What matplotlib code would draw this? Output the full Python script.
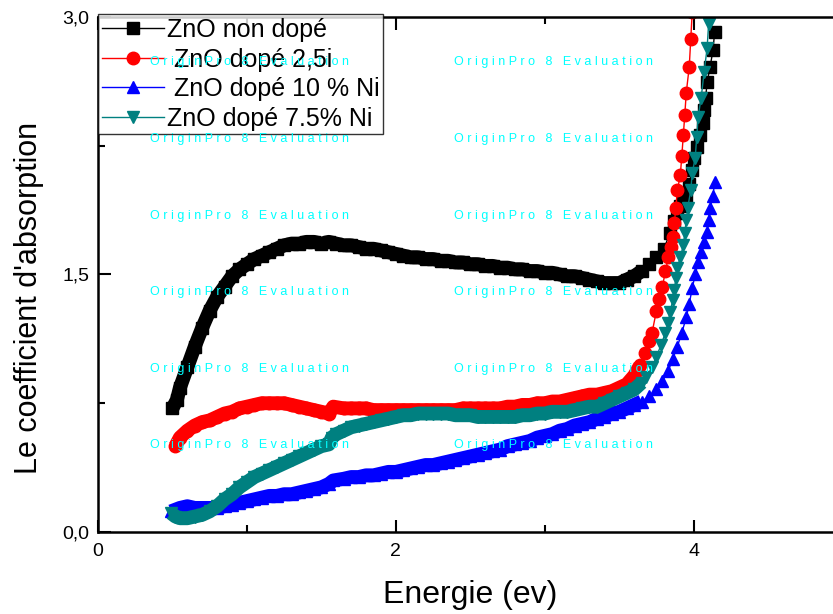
import numpy as np
import matplotlib
matplotlib.use('Agg')
from matplotlib import pyplot as plt
from matplotlib import ticker

plt.rcParams['font.family'] = ['Liberation Sans', 'DejaVu Sans']
plt.rcParams['xtick.direction'] = 'in'
plt.rcParams['ytick.direction'] = 'in'

# ZnO non dope
x_nd = [0.50, 0.53, 0.55, 0.60, 0.65, 0.70, 0.75, 0.80, 0.85, 0.90, 0.95, 1.00, 1.05, 1.10,
        1.15, 1.20, 1.25, 1.30, 1.35, 1.40, 1.45, 1.50, 1.55, 1.60, 1.65, 1.70, 1.75, 1.80,
        1.85, 1.90, 1.95, 2.00, 2.05, 2.10, 2.15, 2.20, 2.25, 2.30, 2.35, 2.40, 2.45, 2.50,
        2.55, 2.60, 2.65, 2.70, 2.75, 2.80, 2.85, 2.90, 2.95, 3.00, 3.05, 3.10, 3.15, 3.20,
        3.25, 3.30, 3.35, 3.40, 3.45, 3.50, 3.55, 3.60, 3.65, 3.70, 3.75, 3.80, 3.84, 3.87,
        3.89, 3.91, 3.93, 3.95, 3.97, 3.99, 4.00, 4.02, 4.04, 4.06, 4.07, 4.08, 4.09, 4.11,
        4.13, 4.14]
y_nd = [0.72, 0.77, 0.84, 0.96, 1.08, 1.19, 1.29, 1.37, 1.43, 1.49, 1.53, 1.56, 1.59, 1.61,
        1.63, 1.65, 1.67, 1.68, 1.68, 1.69, 1.69, 1.68, 1.69, 1.68, 1.67, 1.67, 1.66, 1.65,
        1.65, 1.64, 1.63, 1.62, 1.61, 1.60, 1.60, 1.59, 1.59, 1.58, 1.58, 1.57, 1.57, 1.56,
        1.56, 1.55, 1.55, 1.54, 1.54, 1.53, 1.53, 1.52, 1.52, 1.51, 1.51, 1.50, 1.49, 1.49,
        1.48, 1.47, 1.46, 1.45, 1.45, 1.45, 1.47, 1.49, 1.52, 1.56, 1.60, 1.65, 1.74, 1.81,
        1.86, 1.90, 1.93, 1.96, 2.03, 2.11, 2.18, 2.24, 2.31, 2.38, 2.46, 2.53, 2.62, 2.71,
        2.81, 2.91]

# ZnO dope 2,5
x_25 = [0.52, 0.55, 0.60, 0.65, 0.70, 0.75, 0.80, 0.85, 0.90, 0.95, 1.00, 1.05, 1.10, 1.15,
        1.20, 1.25, 1.30, 1.35, 1.40, 1.45, 1.50, 1.55, 1.58, 1.65, 1.70, 1.75, 1.80, 1.85,
        1.90, 1.95, 2.00, 2.05, 2.10, 2.15, 2.20, 2.25, 2.30, 2.35, 2.40, 2.45, 2.50, 2.55,
        2.60, 2.65, 2.70, 2.75, 2.80, 2.85, 2.90, 2.95, 3.00, 3.05, 3.10, 3.15, 3.20, 3.25,
        3.30, 3.35, 3.40, 3.45, 3.50, 3.55, 3.60, 3.64, 3.67, 3.70, 3.72, 3.75, 3.77, 3.79,
        3.81, 3.83, 3.85, 3.86, 3.87, 3.88, 3.89, 3.91, 3.92, 3.93, 3.94, 3.95, 3.97, 3.98,
        3.99]
y_25 = [0.50, 0.55, 0.59, 0.62, 0.64, 0.65, 0.67, 0.69, 0.70, 0.72, 0.73, 0.74, 0.75, 0.75,
        0.75, 0.75, 0.74, 0.73, 0.72, 0.71, 0.70, 0.69, 0.73, 0.72, 0.72, 0.72, 0.72, 0.71,
        0.71, 0.71, 0.71, 0.71, 0.71, 0.71, 0.71, 0.71, 0.71, 0.71, 0.71, 0.72, 0.72, 0.72,
        0.72, 0.72, 0.72, 0.73, 0.73, 0.74, 0.74, 0.75, 0.75, 0.76, 0.76, 0.77, 0.78, 0.79,
        0.80, 0.80, 0.81, 0.82, 0.84, 0.86, 0.91, 0.97, 1.04, 1.11, 1.16, 1.29, 1.36, 1.43,
        1.52, 1.60, 1.66, 1.72, 1.80, 1.89, 1.99, 2.08, 2.19, 2.31, 2.43, 2.56, 2.71, 2.87,
        3.03]

# ZnO dope 10 % Ni
x_10 = [0.49, 0.55, 0.60, 0.65, 0.70, 0.75, 0.80, 0.85, 0.90, 0.95, 1.00, 1.05, 1.10, 1.15,
        1.20, 1.25, 1.30, 1.35, 1.40, 1.45, 1.50, 1.55, 1.58, 1.65, 1.70, 1.75, 1.80, 1.85,
        1.90, 1.95, 2.00, 2.05, 2.10, 2.15, 2.20, 2.25, 2.30, 2.35, 2.40, 2.45, 2.50, 2.55,
        2.60, 2.65, 2.70, 2.75, 2.80, 2.85, 2.90, 2.95, 3.00, 3.05, 3.10, 3.15, 3.20, 3.25,
        3.30, 3.35, 3.40, 3.45, 3.50, 3.55, 3.60, 3.65, 3.70, 3.75, 3.79, 3.83, 3.86, 3.89,
        3.92, 3.95, 3.97, 3.99, 4.01, 4.03, 4.05, 4.07, 4.09, 4.10, 4.11, 4.13, 4.14]
y_10 = [0.12, 0.14, 0.15, 0.14, 0.14, 0.14, 0.14, 0.15, 0.16, 0.17, 0.18, 0.19, 0.20, 0.21,
        0.21, 0.22, 0.22, 0.23, 0.24, 0.25, 0.26, 0.28, 0.30, 0.31, 0.32, 0.32, 0.33, 0.33,
        0.34, 0.35, 0.35, 0.36, 0.37, 0.38, 0.39, 0.39, 0.40, 0.41, 0.42, 0.43, 0.44, 0.45,
        0.46, 0.47, 0.48, 0.50, 0.51, 0.52, 0.53, 0.55, 0.56, 0.57, 0.59, 0.60, 0.62, 0.63,
        0.64, 0.66, 0.67, 0.69, 0.70, 0.72, 0.74, 0.76, 0.79, 0.83, 0.88, 0.94, 1.01, 1.08,
        1.16, 1.25, 1.33, 1.42, 1.50, 1.57, 1.63, 1.69, 1.75, 1.82, 1.89, 1.96, 2.04]

# ZnO dope 7.5% Ni
x_75 = [0.49, 0.52, 0.55, 0.60, 0.65, 0.70, 0.75, 0.80, 0.85, 0.90, 0.95, 1.00, 1.05, 1.10,
        1.15, 1.20, 1.25, 1.30, 1.35, 1.40, 1.45, 1.50, 1.55, 1.57, 1.60, 1.65, 1.70, 1.75,
        1.80, 1.85, 1.90, 1.95, 2.00, 2.05, 2.10, 2.15, 2.20, 2.25, 2.30, 2.35, 2.40, 2.45,
        2.50, 2.55, 2.60, 2.65, 2.70, 2.75, 2.80, 2.85, 2.90, 2.95, 3.00, 3.05, 3.10, 3.15,
        3.20, 3.25, 3.30, 3.35, 3.40, 3.45, 3.50, 3.55, 3.60, 3.65, 3.68, 3.72, 3.75, 3.78,
        3.81, 3.83, 3.84, 3.86, 3.87, 3.88, 3.89, 3.91, 3.93, 3.94, 3.95, 3.96, 3.98, 3.99,
        4.01, 4.02, 4.03, 4.05, 4.07, 4.09, 4.10]
y_75 = [0.11, 0.09, 0.08, 0.08, 0.09, 0.10, 0.12, 0.15, 0.19, 0.22, 0.26, 0.29, 0.32, 0.34,
        0.36, 0.38, 0.40, 0.42, 0.44, 0.46, 0.48, 0.50, 0.51, 0.55, 0.57, 0.59, 0.61, 0.62,
        0.63, 0.64, 0.65, 0.66, 0.67, 0.68, 0.68, 0.69, 0.69, 0.69, 0.69, 0.69, 0.68, 0.68,
        0.68, 0.67, 0.67, 0.67, 0.67, 0.67, 0.67, 0.68, 0.68, 0.69, 0.69, 0.70, 0.70, 0.70,
        0.71, 0.72, 0.73, 0.73, 0.75, 0.77, 0.79, 0.81, 0.83, 0.87, 0.90, 0.96, 1.02, 1.09,
        1.16, 1.22, 1.28, 1.35, 1.41, 1.48, 1.54, 1.60, 1.67, 1.74, 1.82, 1.89, 1.99, 2.09,
        2.18, 2.30, 2.42, 2.53, 2.68, 2.82, 2.96]

series = [
    (x_nd, y_nd, 'ZnO non dopé', 'black', 's'),
    (x_25, y_25, ' ZnO dopé 2,5i', '#FF0000', 'o'),
    (x_10, y_10, ' ZnO dopé 10 % Ni', '#0000FF', '^'),
    (x_75, y_75, 'ZnO dopé 7.5% Ni', '#008080', 'v'),
]

fig = plt.figure(figsize=(8.33, 6.14), dpi=100)
ax = fig.add_axes([0.1176, 0.1336, 0.894, 0.8387])

edge = 3.66  # below this the markers are so dense they merge into a band
for xs, ys, lab, col, mk in series:
    xa, ya = np.array(xs), np.array(ys)
    m = xa <= edge
    ax.plot(xa[m], ya[m], color=col, lw=10, solid_capstyle='butt', solid_joinstyle='round')
    ax.plot(xa, ya, color=col, lw=1, marker=mk, markersize=9,
            markerfacecolor=col, markeredgecolor=col, label=lab)

ax.set_xlim(0, 5)
ax.set_ylim(0, 3.0)
ax.xaxis.set_major_locator(ticker.MultipleLocator(2))
ax.xaxis.set_minor_locator(ticker.MultipleLocator(1))
ax.yaxis.set_major_locator(ticker.MultipleLocator(1.5))
ax.yaxis.set_minor_locator(ticker.MultipleLocator(0.75))
ax.yaxis.set_major_formatter(ticker.FuncFormatter(lambda v, p: ('%.1f' % v).replace('.', ',')))
ax.tick_params(which='major', length=9, width=1.5, labelsize=14, top=True, pad=6)
ax.tick_params(which='minor', length=5, width=1.5, top=True)
ax.tick_params(axis='x', which='major', pad=8)
for s in ax.spines.values():
    s.set_linewidth(1.8)

ax.set_xlabel('Energie (ev)', fontsize=23, labelpad=14)
ax.set_ylabel("Le coefficient d'absorption", fontsize=22)
ax.yaxis.set_label_coords(-0.072, 0.455)

leg = ax.legend(loc='upper left', bbox_to_anchor=(0.0, 1.005), borderaxespad=0,
                fontsize=18, handlelength=2.5, handletextpad=0.1, labelspacing=0.22,
                borderpad=0.15, fancybox=False, frameon=True)
leg.get_frame().set_edgecolor('black')
leg.get_frame().set_linewidth(1.0)

# OriginPro watermark
wm = 'O r i g i n P r o   8   E v a l u a t i o n'
for fx in [0.300, 0.664]:
    for py in [62, 139, 216, 292, 369, 445]:
        fig.text(fx, 1 - py / 614, wm, color='#00FFFF', fontsize=9,
                 ha='center', va='center', zorder=20)

plt.savefig('out.png', dpi=100)
plt.close()
